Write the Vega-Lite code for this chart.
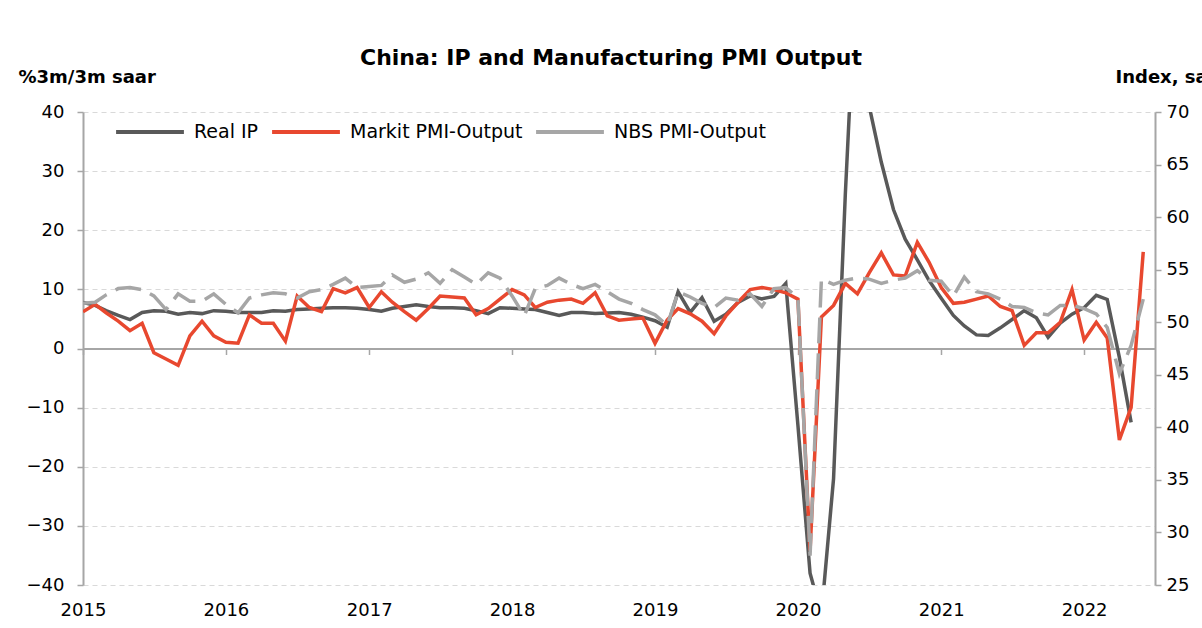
{
  "$schema": "https://vega.github.io/schema/vega-lite/v6.json",
  "width": 1072,
  "height": 473,
  "autosize": {"type": "none"},
  "padding": {"left": 83, "top": 112, "right": 47, "bottom": 43},
  "background": "white",
  "title": {
    "text": "China: IP and Manufacturing PMI Output",
    "font": "DejaVu Sans",
    "fontSize": 22,
    "fontWeight": "bold",
    "color": "#000000",
    "anchor": "middle",
    "frame": "group",
    "dx": -8,
    "dy": 10,
    "offset": 8
  },
  "config": {
    "font": "DejaVu Sans",
    "view": {"stroke": null},
    "line": {"strokeCap": "butt", "strokeJoin": "miter"}
  },
  "data": {
    "values": [
      {"d": "2015-01-01", "ip": 7.8, "mk": 51.0, "nbs": 51.8},
      {"d": "2015-02-01", "ip": 7.3, "mk": 51.7, "nbs": 51.9},
      {"d": "2015-03-01", "ip": 6.4, "mk": 50.9, "nbs": 52.6},
      {"d": "2015-04-01", "ip": 5.6, "mk": 50.1, "nbs": 53.2},
      {"d": "2015-05-01", "ip": 4.9, "mk": 49.2, "nbs": 53.3},
      {"d": "2015-06-01", "ip": 6.1, "mk": 49.9, "nbs": 53.1},
      {"d": "2015-07-01", "ip": 6.4, "mk": 47.1, "nbs": 52.5},
      {"d": "2015-08-01", "ip": 6.3, "mk": 46.5, "nbs": 51.2},
      {"d": "2015-09-01", "ip": 5.8, "mk": 45.9, "nbs": 52.7},
      {"d": "2015-10-01", "ip": 6.1, "mk": 48.7, "nbs": 52.0},
      {"d": "2015-11-01", "ip": 5.9, "mk": 50.1, "nbs": 52.0},
      {"d": "2015-12-01", "ip": 6.4, "mk": 48.7, "nbs": 52.7},
      {"d": "2016-01-01", "ip": 6.3, "mk": 48.1, "nbs": 51.7},
      {"d": "2016-02-01", "ip": 6.1, "mk": 48.0, "nbs": 50.9},
      {"d": "2016-03-01", "ip": 6.1, "mk": 50.7, "nbs": 52.3},
      {"d": "2016-04-01", "ip": 6.1, "mk": 49.9, "nbs": 52.6},
      {"d": "2016-05-01", "ip": 6.4, "mk": 49.9, "nbs": 52.8},
      {"d": "2016-06-01", "ip": 6.3, "mk": 48.2, "nbs": 52.7},
      {"d": "2016-07-01", "ip": 6.6, "mk": 52.5, "nbs": 52.3},
      {"d": "2016-08-01", "ip": 6.7, "mk": 51.4, "nbs": 52.9},
      {"d": "2016-09-01", "ip": 6.8, "mk": 51.0, "nbs": 53.1},
      {"d": "2016-10-01", "ip": 6.9, "mk": 53.2, "nbs": 53.6},
      {"d": "2016-11-01", "ip": 6.9, "mk": 52.8, "nbs": 54.2},
      {"d": "2016-12-01", "ip": 6.8, "mk": 53.3, "nbs": 53.3},
      {"d": "2017-01-01", "ip": 6.6, "mk": 51.4, "nbs": 53.4},
      {"d": "2017-02-01", "ip": 6.3, "mk": 52.9, "nbs": 53.5},
      {"d": "2017-03-01", "ip": 6.8, "mk": 51.9, "nbs": 54.5},
      {"d": "2017-04-01", "ip": 7.1, "mk": 51.0, "nbs": 53.8},
      {"d": "2017-05-01", "ip": 7.4, "mk": 50.2, "nbs": 54.1},
      {"d": "2017-06-01", "ip": 7.1, "mk": 51.3, "nbs": 54.7},
      {"d": "2017-07-01", "ip": 6.9, "mk": 52.5, "nbs": 53.7},
      {"d": "2017-08-01", "ip": 6.9, "mk": 52.4, "nbs": 55.0},
      {"d": "2017-09-01", "ip": 6.8, "mk": 52.3, "nbs": 54.3},
      {"d": "2017-10-01", "ip": 6.4, "mk": 50.7, "nbs": 53.6},
      {"d": "2017-11-01", "ip": 5.9, "mk": 51.3, "nbs": 54.7},
      {"d": "2017-12-01", "ip": 6.9, "mk": 52.2, "nbs": 54.2},
      {"d": "2018-01-01", "ip": 6.8, "mk": 53.1, "nbs": 52.5},
      {"d": "2018-02-01", "ip": 6.7, "mk": 52.6, "nbs": 50.6},
      {"d": "2018-03-01", "ip": 6.6, "mk": 51.4, "nbs": 53.2},
      {"d": "2018-04-01", "ip": 6.1, "mk": 51.9, "nbs": 53.5},
      {"d": "2018-05-01", "ip": 5.6, "mk": 52.1, "nbs": 54.2},
      {"d": "2018-06-01", "ip": 6.1, "mk": 52.2, "nbs": 53.6},
      {"d": "2018-07-01", "ip": 6.1, "mk": 51.8, "nbs": 53.2},
      {"d": "2018-08-01", "ip": 5.9, "mk": 52.8, "nbs": 53.6},
      {"d": "2018-09-01", "ip": 6.0, "mk": 50.6, "nbs": 52.9},
      {"d": "2018-10-01", "ip": 6.1, "mk": 50.2, "nbs": 52.2},
      {"d": "2018-11-01", "ip": 5.8, "mk": 50.3, "nbs": 51.8},
      {"d": "2018-12-01", "ip": 5.3, "mk": 50.4, "nbs": 51.2},
      {"d": "2019-01-01", "ip": 4.7, "mk": 48.0, "nbs": 50.7},
      {"d": "2019-02-01", "ip": 3.6, "mk": 50.2, "nbs": 49.7},
      {"d": "2019-03-01", "ip": 9.6, "mk": 51.3, "nbs": 52.9},
      {"d": "2019-04-01", "ip": 6.1, "mk": 50.8, "nbs": 52.4},
      {"d": "2019-05-01", "ip": 8.6, "mk": 50.1, "nbs": 51.8},
      {"d": "2019-06-01", "ip": 4.6, "mk": 48.9, "nbs": 51.4},
      {"d": "2019-07-01", "ip": 5.8, "mk": 50.6, "nbs": 52.3},
      {"d": "2019-08-01", "ip": 7.8, "mk": 51.9, "nbs": 52.1},
      {"d": "2019-09-01", "ip": 8.9, "mk": 53.1, "nbs": 52.7},
      {"d": "2019-10-01", "ip": 8.4, "mk": 53.3, "nbs": 51.5},
      {"d": "2019-11-01", "ip": 8.8, "mk": 53.1, "nbs": 53.2},
      {"d": "2019-12-01", "ip": 11.0, "mk": 52.8, "nbs": 53.3},
      {"d": "2020-01-01", "ip": -13.0, "mk": 52.2, "nbs": 52.3},
      {"d": "2020-02-01", "ip": -38.0, "mk": 28.3, "nbs": 27.8},
      {"d": "2020-03-01", "ip": -45.0, "mk": 50.5, "nbs": 54.1},
      {"d": "2020-04-01", "ip": -22.0, "mk": 51.6, "nbs": 53.6},
      {"d": "2020-05-01", "ip": 26.0, "mk": 53.7, "nbs": 54.0},
      {"d": "2020-06-01", "ip": 68.0, "mk": 52.7, "nbs": 54.2},
      {"d": "2020-07-01", "ip": 41.0, "mk": 54.7, "nbs": 54.1},
      {"d": "2020-08-01", "ip": 31.5, "mk": 56.6, "nbs": 53.7},
      {"d": "2020-09-01", "ip": 23.5, "mk": 54.5, "nbs": 54.0},
      {"d": "2020-10-01", "ip": 18.5, "mk": 54.4, "nbs": 54.2},
      {"d": "2020-11-01", "ip": 15.0, "mk": 57.6, "nbs": 54.9},
      {"d": "2020-12-01", "ip": 11.5, "mk": 55.7, "nbs": 54.0},
      {"d": "2021-01-01", "ip": 8.5, "mk": 53.3, "nbs": 53.9},
      {"d": "2021-02-01", "ip": 5.6, "mk": 51.8, "nbs": 52.5},
      {"d": "2021-03-01", "ip": 3.8, "mk": 51.9, "nbs": 54.3},
      {"d": "2021-04-01", "ip": 2.3, "mk": 52.2, "nbs": 52.9},
      {"d": "2021-05-01", "ip": 2.2, "mk": 52.5, "nbs": 52.7},
      {"d": "2021-06-01", "ip": 3.5, "mk": 51.5, "nbs": 52.2},
      {"d": "2021-07-01", "ip": 4.9, "mk": 51.1, "nbs": 51.5},
      {"d": "2021-08-01", "ip": 6.4, "mk": 47.8, "nbs": 51.4},
      {"d": "2021-09-01", "ip": 5.2, "mk": 49.0, "nbs": 50.9},
      {"d": "2021-10-01", "ip": 1.9, "mk": 49.0, "nbs": 50.7},
      {"d": "2021-11-01", "ip": 4.3, "mk": 50.0, "nbs": 51.6},
      {"d": "2021-12-01", "ip": 5.8, "mk": 53.1, "nbs": 51.6},
      {"d": "2022-01-01", "ip": 6.9, "mk": 48.3, "nbs": 51.3},
      {"d": "2022-02-01", "ip": 9.0, "mk": 50.0, "nbs": 50.8},
      {"d": "2022-03-01", "ip": 8.3, "mk": 48.5, "nbs": 49.5},
      {"d": "2022-04-01", "ip": -1.5, "mk": 38.8, "nbs": 45.1},
      {"d": "2022-05-01", "ip": -12.5, "mk": 41.9, "nbs": 47.8},
      {"d": "2022-06-01", "mk": 56.7, "nbs": 52.2}
    ]
  },
  "layer": [
    {
      "layer": [
        {
          "transform": [{"filter": "isValid(datum.ip)"}],
          "mark": {"type": "line", "strokeWidth": 3.5, "clip": true},
          "encoding": {
            "x": {
              "field": "d",
              "type": "temporal",
              "scale": {"type": "utc", "domain": [{"year": 2015, "month": 1, "date": 1, "utc": true}, {"year": 2022, "month": 7, "date": 1, "utc": true}]},
              "axis": {
                "orient": "bottom",
                "offset": -236.5,
                "title": null,
                "labels": false,
                "grid": false,
                "domain": true,
                "domainColor": "#A6A6A6",
                "domainWidth": 2,
                "ticks": true,
                "tickColor": "#A6A6A6",
                "tickWidth": 1.5,
                "tickSize": 6,
                "tickCount": {"interval": "year", "step": 1}
              }
            },
            "y": {
              "field": "ip",
              "type": "quantitative",
              "scale": {"domain": [-40, 40], "nice": false, "zero": false},
              "axis": {
                "orient": "left",
                "values": [-40, -30, -20, -10, 0, 10, 20, 30, 40],
                "grid": true,
                "gridColor": "#D9D9D9",
                "gridDash": [5, 4],
                "gridWidth": 1,
                "domain": true,
                "domainColor": "#A6A6A6",
                "domainWidth": 2,
                "ticks": true,
                "tickColor": "#A6A6A6",
                "tickSize": 6,
                "tickWidth": 1.5,
                "labelFont": "DejaVu Sans",
                "labelFontSize": 18,
                "labelColor": "#000000",
                "labelPadding": 13,
                "title": "%3m/3m saar",
                "titleFont": "DejaVu Sans",
                "titleFontSize": 18,
                "titleFontWeight": "bold",
                "titleColor": "#000000",
                "titleAngle": 0,
                "titleAlign": "left",
                "titleBaseline": "alphabetic",
                "titleX": -65,
                "titleY": -30
              }
            },
            "color": {
              "datum": "Real IP",
              "type": "nominal",
              "scale": {"domain": ["Real IP", "Markit PMI-Output", "NBS PMI-Output"], "range": ["#595959", "#E8482F", "#A6A6A6"]},
              "legend": {
                "orient": "none",
                "legendX": 31,
                "legendY": -16,
                "direction": "horizontal",
                "title": null,
                "symbolType": "stroke",
                "symbolSize": 4600,
                "symbolStrokeWidth": 4,
                "labelFont": "DejaVu Sans",
                "labelFontSize": 19,
                "labelColor": "#000000",
                "labelOffset": 8,
                "columnPadding": 5,
                "labelLimit": 400,
                "encode": {
                  "symbols": {
                    "update": {
                      "strokeDash": {"signal": "datum.value === 'NBS PMI-Output' ? [26, 10] : [1, 0]"}
                    }
                  }
                }
              }
            }
          }
        }
      ]
    },
    {
      "layer": [
        {
          "mark": {"type": "line", "strokeWidth": 3.5, "clip": true},
          "encoding": {
            "x": {
              "field": "d",
              "type": "temporal",
              "axis": {
                "orient": "bottom",
                "title": null,
                "domain": false,
                "ticks": false,
                "grid": false,
                "labelFont": "DejaVu Sans",
                "labelFontSize": 18,
                "labelColor": "#000000",
                "labelPadding": 16,
                "labelFlush": false,
                "labelOverlap": false,
                "format": "%Y",
                "formatType": "utc",
                "tickCount": {"interval": "year", "step": 1}
              }
            },
            "y": {
              "field": "mk",
              "type": "quantitative",
              "scale": {"domain": [25, 70], "nice": false, "zero": false},
              "axis": {
                "orient": "right",
                "values": [25, 30, 35, 40, 45, 50, 55, 60, 65, 70],
                "grid": false,
                "domain": true,
                "domainColor": "#A6A6A6",
                "domainWidth": 2,
                "ticks": true,
                "tickColor": "#A6A6A6",
                "tickSize": 6,
                "tickWidth": 1.5,
                "labelFont": "DejaVu Sans",
                "labelFontSize": 18,
                "labelColor": "#000000",
                "labelPadding": 5,
                "title": "Index, sa",
                "titleFont": "DejaVu Sans",
                "titleFontSize": 18,
                "titleFontWeight": "bold",
                "titleColor": "#000000",
                "titleAngle": 0,
                "titleAlign": "left",
                "titleBaseline": "alphabetic",
                "titleX": -40,
                "titleY": -30
              }
            },
            "color": {"datum": "Markit PMI-Output", "type": "nominal"}
          }
        },
        {
          "mark": {"type": "line", "strokeWidth": 3.5, "strokeDash": [26, 10], "clip": true},
          "encoding": {
            "x": {"field": "d", "type": "temporal"},
            "y": {"field": "nbs", "type": "quantitative", "scale": {"domain": [25, 70], "nice": false, "zero": false}},
            "color": {"datum": "NBS PMI-Output", "type": "nominal"}
          }
        }
      ]
    }
  ],
  "resolve": {"scale": {"y": "independent"}, "axis": {"x": "independent"}}
}
